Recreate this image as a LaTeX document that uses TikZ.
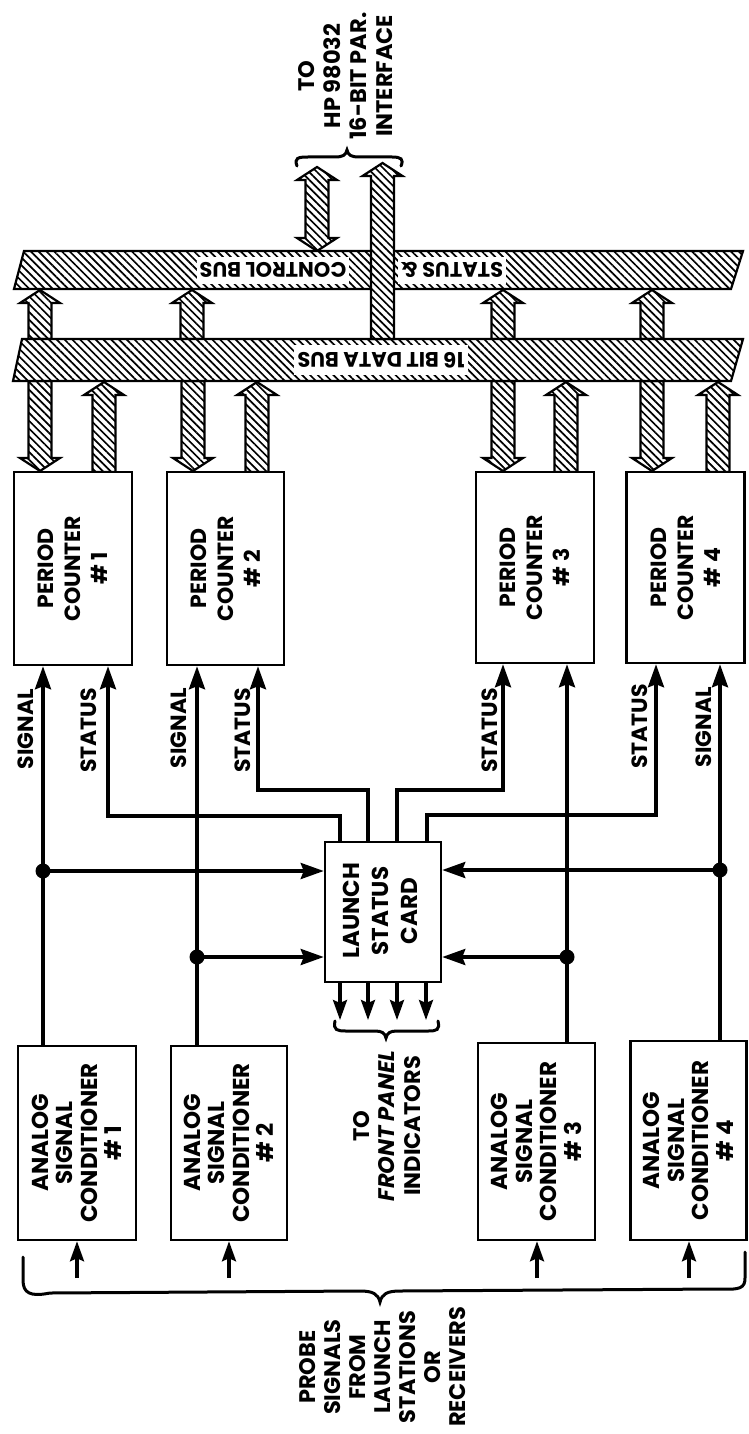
\documentclass[tikz,border=0pt]{standalone}
\usepackage{fontspec}
\setmainfont{Poppins}
\usetikzlibrary{arrows.meta,patterns.meta,calc}
\newcommand\blkUp[3]{\draw[blk] ({#1-11.5},#2) -- ({#1-11.5},{#3+13}) -- ({#1-20},{#3+13}) -- (#1,#3) -- ({#1+20},{#3+13}) -- ({#1+11.5},{#3+13}) -- ({#1+11.5},#2) -- cycle;}
\newcommand\blkDown[3]{\draw[blk] ({#1-11.5},#2) -- ({#1-11.5},{#3-13}) -- ({#1-20},{#3-13}) -- (#1,#3) -- ({#1+20},{#3-13}) -- ({#1+11.5},{#3-13}) -- ({#1+11.5},#2) -- cycle;}
\newcommand\blkBoth[3]{\draw[blk] (#1,#2) -- ({#1+20},{#2+13}) -- ({#1+11.5},{#2+13}) -- ({#1+11.5},{#3-13}) -- ({#1+20},{#3-13}) -- (#1,#3) -- ({#1-20},{#3-13}) -- ({#1-11.5},{#3-13}) -- ({#1-11.5},{#2+13}) -- ({#1-20},{#2+13}) -- cycle;}
\begin{document}
\begin{tikzpicture}[x=1pt,y=-1pt,
  box/.style={draw,line width=2.5pt,fill=white,inner sep=0pt},
  lbl/.style={rotate=90,align=center,font=\fontsize{22}{27}\selectfont\bfseries,inner sep=0pt},
  sml/.style={rotate=90,font=\fontsize{22}{26}\selectfont\bfseries,inner sep=0pt,anchor=east},
  blk/.style={draw,line width=2.2pt,line join=miter,preaction={fill=white},pattern={Lines[angle=-45,distance=5.5pt,line width=1.7pt]}},
  bustxt/.style={rotate=180,fill=white,font=\fontsize{21}{24}\selectfont\bfseries,inner xsep=3pt,inner ysep=0pt,minimum height=27pt},
  wire/.style={line width=3.5pt},
  arr/.style={wire,-{Stealth[length=23pt,width=16pt,inset=3pt]}},
  arrs/.style={line width=3.2pt,-{Stealth[length=20pt,width=14pt,inset=3pt]}},
  jdot/.style={circle,fill,inner sep=0pt,minimum size=15pt},
  brc/.style={line width=3pt,line cap=round}]
\useasboundingbox (0,0) rectangle (748,1434);

% ---- block arrows between buses and to boxes ----
\blkUp{40}{339}{290}
\blkUp{192}{339}{290}
\blkUp{503}{339}{290}
\blkUp{652}{339}{290}
\blkDown{40}{381}{471}
\blkDown{193}{381}{471}
\blkDown{503}{381}{471}
\blkDown{652}{381}{471}
\blkUp{104}{472}{382}
\blkUp{257}{472}{382}
\blkUp{566}{472}{382}
\blkUp{718}{472}{382}
\blkBoth{317}{167}{251}

% ---- buses ----
\draw[blk] (24,251) -- (743,251) -- (731,289) -- (14,289) -- cycle;
\draw[blk] (22,339) -- (743,339) -- (731,381) -- (13,381) -- cycle;
\node[bustxt] (cbA) at (273,270) {CONTROL BUS};
\node[bustxt] (cbB) at (452,270) {STATUS \&};
\node[bustxt,minimum height=30pt] (db) at (381,360) {16 BIT DATA BUS};
\blkUp{382.5}{339}{163}

% ---- interface label and brace ----
\node[lbl,font=\fontsize{22.5}{26}\selectfont\bfseries] (ifc) at (346,76) {TO\\HP 98032\\16-BIT PAR.\\INTERFACE};
\draw[brc] (297,166) .. controls (294,158) and (298,157) .. (308,157) -- (335,157) .. controls (343,157) and (346,155) .. (347,150) .. controls (348,155) and (351,157) .. (359,157) -- (392,157) .. controls (401,157) and (404,159) .. (401,166);

% ---- boxes ----
\node[box,minimum width=118pt,minimum height=193pt] (pc1) at (73,568.5) {};
\node[box,minimum width=117pt,minimum height=193pt] (pc2) at (225.5,568.5) {};
\node[box,minimum width=118pt,minimum height=191pt] (pc3) at (535,567.5) {};
\node[box,minimum width=118pt,minimum height=191pt] (pc4) at (685.5,567.5) {};
\node[lbl] (pc1t) at (pc1) {PERIOD\\COUNTER\\\# 1};
\node[lbl] (pc2t) at (pc2) {PERIOD\\COUNTER\\\# 2};
\node[lbl] (pc3t) at (pc3) {PERIOD\\COUNTER\\\# 3};
\node[lbl] (pc4t) at (pc4) {PERIOD\\COUNTER\\\# 4};

\node[box,minimum width=118pt,minimum height=194pt] (asc1) at (77,1143) {};
\node[box,minimum width=116pt,minimum height=194pt] (asc2) at (229,1143) {};
\node[box,minimum width=117pt,minimum height=197pt] (asc3) at (536.5,1141.5) {};
\node[box,minimum width=116pt,minimum height=199pt] (asc4) at (688.5,1140.5) {};
\node[lbl,font=\fontsize{23}{24.5}\selectfont\bfseries] (asc1t) at (asc1) {ANALOG\\SIGNAL\\CONDITIONER\\\# 1};
\node[lbl,font=\fontsize{23}{24.5}\selectfont\bfseries] (asc2t) at (asc2) {ANALOG\\SIGNAL\\CONDITIONER\\\# 2};
\node[lbl,font=\fontsize{23}{24.5}\selectfont\bfseries] (asc3t) at (asc3) {ANALOG\\SIGNAL\\CONDITIONER\\\# 3};
\node[lbl,font=\fontsize{23}{24.5}\selectfont\bfseries] (asc4t) at (asc4) {ANALOG\\SIGNAL\\CONDITIONER\\\# 4};

\node[box,minimum width=116pt,minimum height=140pt] (card) at (383,912) {};
\node[lbl,font=\fontsize{23}{29}\selectfont\bfseries] (cardt) at (380,911) {LAUNCH\\STATUS\\CARD};

% ---- signal lines ----
\coordinate (s1) at (43,0);
\coordinate (s2) at (197,0);
\coordinate (s3) at (567,0);
\coordinate (s4) at (720,0);
\draw[arr] (asc1.north -| s1) -- (pc1.south -| s1);
\draw[arr] (asc2.north -| s2) -- (pc2.south -| s2);
\draw[arr] (asc3.north -| s3) -- (pc3.south -| s3);
\draw[arr] (asc4.north -| s4) -- (pc4.south -| s4);
\coordinate (j1) at (43,871);
\coordinate (j2) at (197,957);
\coordinate (j3) at (567,957);
\coordinate (j4) at (720,870);
\draw[arr] (j1) -- (j1 -| card.west);
\draw[arr] (j2) -- (j2 -| card.west);
\draw[arr] (j3) -- (j3 -| card.east);
\draw[arr] (j4) -- (j4 -| card.east);
\node[jdot] (d1) at (j1) {};
\node[jdot] (d2) at (j2) {};
\node[jdot] (d3) at (j3) {};
\node[jdot] (d4) at (j4) {};

% ---- status lines ----
\coordinate (t1) at (340,0);
\coordinate (t2) at (368,0);
\coordinate (t3) at (397,0);
\coordinate (t4) at (427,0);
\coordinate (k1) at (108,816);
\coordinate (k2) at (258,790);
\coordinate (k3) at (503,790);
\coordinate (k4) at (656,815);
\draw[arr,line join=miter] (card.north -| t1) |- (k1) -- (pc1.south -| k1);
\draw[arr,line join=miter] (card.north -| t2) |- (k2) -- (pc2.south -| k2);
\draw[arr,line join=miter] (card.north -| t3) |- (k3) -- (pc3.south -| k3);
\draw[arr,line join=miter] (card.north -| t4) |- (k4) -- (pc4.south -| k4);

% ---- labels on lines ----
\node[sml] (lsig1) at (26,689) {SIGNAL};
\node[sml] (lst1) at (89,688) {STATUS};
\node[sml] (lsig2) at (179,688) {SIGNAL};
\node[sml] (lst2) at (243,688) {STATUS};
\node[sml] (lst3) at (490,688) {STATUS};
\node[sml] (lst4) at (640,684) {STATUS};
\node[sml] (lsig4) at (704,687) {SIGNAL};

% ---- card outputs ----
\coordinate (o1) at (340,1020);
\coordinate (o2) at (368,1020);
\coordinate (o3) at (397,1020);
\coordinate (o4) at (426,1020);
\draw[arrs] (card.south -| o1) -- (o1);
\draw[arrs] (card.south -| o2) -- (o2);
\draw[arrs] (card.south -| o3) -- (o3);
\draw[arrs] (card.south -| o4) -- (o4);
\draw[brc] (335,1021) .. controls (333,1030) and (337,1031) .. (346,1031) -- (375,1031) .. controls (382,1031) and (385,1033) .. (386,1038) .. controls (387,1033) and (390,1031) .. (397,1031) -- (428,1031) .. controls (437,1031) and (440,1030) .. (438,1021);
\node[lbl,font=\fontsize{22.5}{25.5}\selectfont\bfseries] (fp) at (387,1126) {TO\\{\itshape FRONT PANEL}\\INDICATORS};

% ---- inputs ----
\coordinate (i1) at (77,1278);
\coordinate (i2) at (229,1278);
\coordinate (i3) at (537,1278);
\coordinate (i4) at (689,1278);
\draw[arrs] (i1) -- (asc1.south -| i1);
\draw[arrs] (i2) -- (asc2.south -| i2);
\draw[arrs] (i3) -- (asc3.south -| i3);
\draw[arrs] (i4) -- (asc4.south -| i4);
\draw[brc] (23,1257) -- (23,1280) .. controls (23,1293) and (30,1297) .. (50,1293) -- (360,1291) .. controls (373,1291) and (378,1294) .. (380,1302) .. controls (382,1294) and (387,1291) .. (400,1291) -- (720,1289) .. controls (740,1290) and (745,1288) .. (745,1278) -- (745,1252);
\node[lbl,font=\fontsize{22.5}{25}\selectfont\bfseries] (probe) at (382.5,1367) {PROBE\\SIGNALS\\FROM\\LAUNCH\\STATIONS\\OR\\RECEIVERS};
\end{tikzpicture}
\end{document}
